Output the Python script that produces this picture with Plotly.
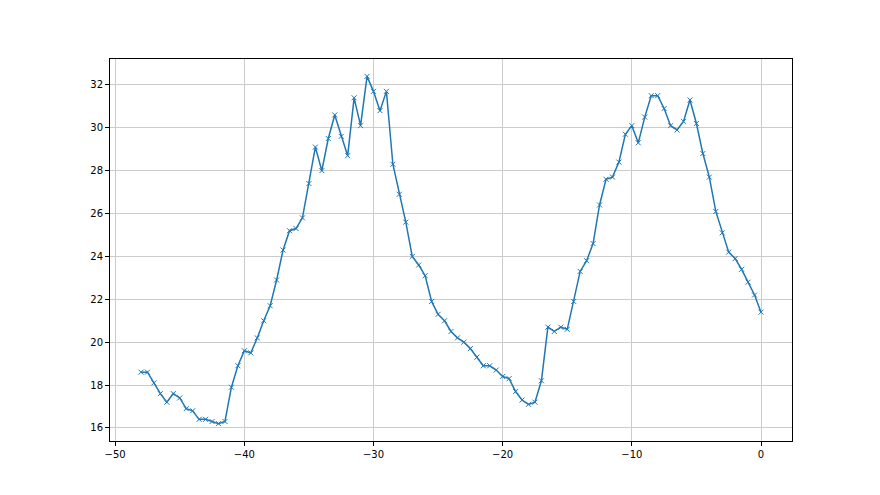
import numpy as np
import plotly.graph_objects as go

x_values = [-48 + 0.5 * i for i in range(97)]
y_values = [
    18.6, 18.6, 18.1, 17.6, 17.2, 17.6, 17.4, 16.9, 16.8, 16.4,
    16.4, 16.3, 16.2, 16.3, 17.9, 18.9, 19.6, 19.5, 20.2, 21.0,
    21.7, 22.9, 24.3, 25.2, 25.3, 25.8, 27.4, 29.1, 28.0, 29.5,
    30.6, 29.6, 28.7, 31.4, 30.1, 32.4, 31.7, 30.8, 31.7, 28.3,
    26.9, 25.6, 24.0, 23.6, 23.1, 21.9, 21.3, 21.0, 20.5, 20.2,
    20.0, 19.7, 19.3, 18.9, 18.9, 18.7, 18.4, 18.3, 17.7, 17.3,
    17.1, 17.2, 18.2, 20.7, 20.5, 20.7, 20.6, 21.9, 23.3, 23.8,
    24.6, 26.4, 27.6, 27.7, 28.4, 29.7, 30.1, 29.3, 30.5, 31.5,
    31.5, 30.9, 30.1, 29.9, 30.3, 31.3, 30.2, 28.8, 27.7, 26.1,
    25.1, 24.2, 23.9, 23.4, 22.8, 22.2, 21.4,
]
x_ticks = [-50, -40, -30, -20, -10, 0]
y_ticks = [16, 18, 20, 22, 24, 26, 28, 30, 32]

fig = go.Figure(go.Scatter(
    x=x_values, y=y_values, mode="lines+markers",
    line=dict(color="#1f77b4", width=1.5),
    marker=dict(symbol="x-thin-open", size=5, color="#1f77b4",
                line=dict(color="#1f77b4", width=1)),
))

xr = (min(x_values), max(x_values))
yr = (min(y_values), max(y_values))
xpad = 0.05 * (xr[1] - xr[0])
ypad = 0.05 * (yr[1] - yr[0])

axis_common = dict(
    showline=True, linecolor="black", linewidth=1, mirror=True,
    ticks="outside", ticklen=4, tickwidth=1, tickcolor="black",
    showgrid=True, gridcolor="#cccccc", gridwidth=1, zeroline=False,
    tickfont=dict(family="DejaVu Sans", size=10, color="black"),
)

fig.update_layout(
    width=880, height=495,
    margin=dict(l=102, r=96, t=51, b=62),
    paper_bgcolor="white", plot_bgcolor="white",
    showlegend=False,
    xaxis=dict(range=[xr[0] - xpad, xr[1] + xpad], tickvals=x_ticks, **axis_common),
    yaxis=dict(range=[yr[0] - ypad, yr[1] + ypad], tickvals=y_ticks, **axis_common),
)

fig.write_html("out.html")
